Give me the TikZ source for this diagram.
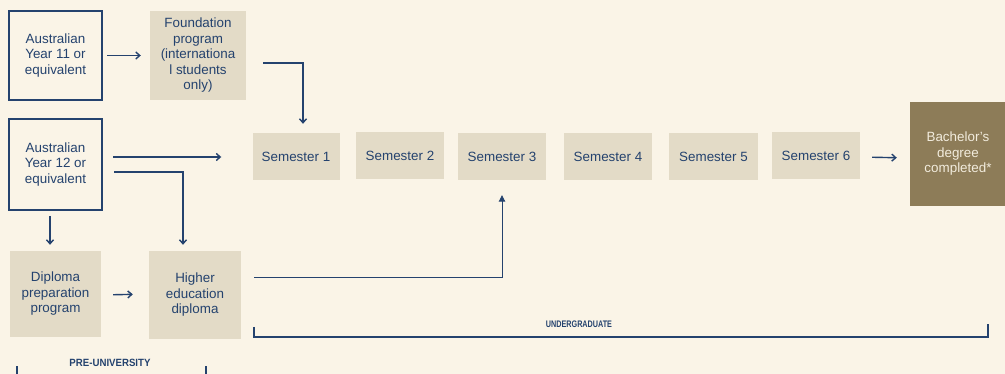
\documentclass[tikz,border=0pt]{standalone}
\usepackage{fontspec}
\setmainfont{Liberation Sans}
\usetikzlibrary{arrows.meta}
\definecolor{bgc}{HTML}{FAF4E7}
\definecolor{boxc}{HTML}{E3DBC7}
\definecolor{navy}{HTML}{24426E}
\definecolor{bach}{HTML}{8D7C58}
\definecolor{bachtxt}{HTML}{F2ECDD}
\tikzset{
  base/.style={align=center, text=navy, font=\fontsize{13.4}{15.5}\selectfont, inner sep=0pt},
  outbox/.style={base, draw=navy, line width=2pt},
  fillbox/.style={base, fill=boxc},
  arr/.style={draw=navy, line width=1.4pt, -{Straight Barb[length=4pt,width=7pt]}},
  thin/.style={draw=navy, line width=0.9pt, -{Triangle[length=6.5pt,width=6.5pt]}},
  brk/.style={draw=navy, line width=1.8pt},
  lbl/.style={text=navy, font=\bfseries\fontsize{9.5}{10}\selectfont, inner sep=0pt}
}
\begin{document}
\begin{tikzpicture}[x=1pt,y=-1pt]
\fill[bgc] (0,0) rectangle (1005,374);
\useasboundingbox (0,0) rectangle (1005,374);

\node[outbox, minimum width=93pt, minimum height=89pt] (y11) at (55.5,55.5) {Australian\\Year 11 or\\equivalent};
\node[fillbox, minimum width=96pt, minimum height=89pt] (fnd) at (198,55.5) {Foundation\\program\\(internationa\\l students\\only)};
\node[outbox, minimum width=93pt, minimum height=91pt] (y12) at (55.5,164.5) {Australian\\Year 12 or\\equivalent};
\node[fillbox, minimum width=91pt, minimum height=86pt] (dip) at (55.5,294) {Diploma\\preparation\\program};
\node[fillbox, minimum width=92pt, minimum height=88pt] (hed) at (195,295) {Higher\\education\\diploma};

\node[fillbox, minimum width=87pt, minimum height=47pt] (s1) at (296,156.5) {Semester 1};
\node[fillbox, minimum width=88pt, minimum height=47pt] (s2) at (400,156) {Semester 2};
\node[fillbox, minimum width=88pt, minimum height=47pt] (s3) at (502,156.5) {Semester 3};
\node[fillbox, minimum width=88pt, minimum height=47pt] (s4) at (608,156.5) {Semester 4};
\node[fillbox, minimum width=89pt, minimum height=47pt] (s5) at (713.5,156.5) {Semester 5};
\node[fillbox, minimum width=88pt, minimum height=47pt] (s6) at (816,156) {Semester 6};
\node[base, fill=bach, text=bachtxt, minimum width=96pt, minimum height=104pt] (bd) at (958,154) {Bachelor's\\degree\\completed*};

% connectors
\draw[arr, shorten <=4pt, shorten >=9pt] (y11.east) -- (fnd.west);
\draw[arr] ([xshift=17pt,yshift=-7.5pt]fnd.east) -| ([xshift=7pt,yshift=9pt]s1.north);
\draw[arr, shorten <=10pt, shorten >=31pt] ([yshift=7.5pt]y12.east) -- ([yshift=-0.5pt]s1.west);
\draw[arr] ([xshift=11pt,yshift=-7.5pt]y12.east) -| ([xshift=-12pt,yshift=6pt]hed.north);
\draw[arr] ([xshift=-5.5pt,yshift=-5pt]y12.south) -- ([xshift=-5.5pt,yshift=6pt]dip.north);
\draw[arr, shorten <=12pt, shorten >=16pt] ([yshift=-1pt]dip.east) -- (dip.east -| hed.west);
\draw[thin] ([xshift=13pt,yshift=18pt]hed.east) -| ([yshift=-15pt]s3.south);
\draw[arr, shorten <=12pt, shorten >=13pt] ([yshift=-1pt]s6.east) -- ([yshift=-4pt]bd.west);

% brackets
\coordinate (ugl) at (254,327);
\coordinate (ugr) at (988,324);
\draw[brk] (ugl) -- (254,337) -- (988,337) -- (ugr);
\node[lbl] (ug) at (579,324) {\scalebox{0.76}[1]{UNDERGRADUATE}};

\coordinate (pul) at (17,366);
\coordinate (pur) at (206,366);
\draw[brk] (pul) -- (17,376);
\draw[brk] (pur) -- (206,376);
\node[lbl, font=\bfseries\fontsize{10.5}{12}\selectfont] (pu) at (110,362.5) {\scalebox{0.92}[1]{PRE-UNIVERSITY}};
\end{tikzpicture}
\end{document}
